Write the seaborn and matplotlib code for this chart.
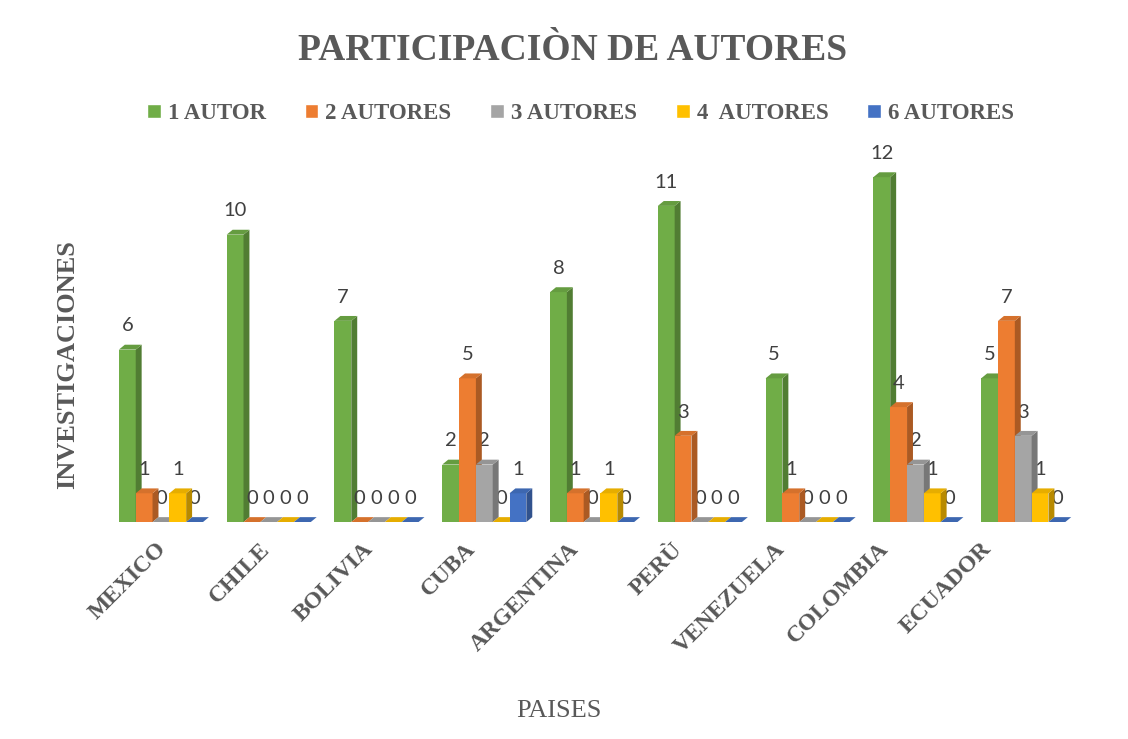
import numpy as np
import pandas as pd
import matplotlib
matplotlib.use("Agg")
import matplotlib.pyplot as plt
from matplotlib.patches import Polygon
from matplotlib.transforms import ScaledTranslation
import matplotlib.colors as mcolors
import seaborn as sns

countries = ["MEXICO", "CHILE", "BOLIVIA", "CUBA", "ARGENTINA", "PERÙ", "VENEZUELA", "COLOMBIA", "ECUADOR"]
series = ["1 AUTOR", "2 AUTORES", "3 AUTORES", "4  AUTORES", "6 AUTORES"]
autor1 = [6, 10, 7, 2, 8, 11, 5, 12, 5]
autores2 = [1, 0, 0, 5, 1, 3, 1, 4, 7]
autores3 = [0, 0, 0, 2, 0, 0, 0, 2, 3]
autores4 = [1, 0, 0, 0, 1, 0, 0, 1, 1]
autores6 = [0, 0, 0, 1, 0, 0, 0, 0, 0]
colors = ["#70AD47", "#ED7D31", "#A5A5A5", "#FFC000", "#4472C4"]

values = [autor1, autores2, autores3, autores4, autores6]
rows = []
for s, vals in zip(series, values):
    for c, v in zip(countries, vals):
        rows.append({"PAIS": c, "SERIE": s, "N": v})
df = pd.DataFrame(rows)

sns.set_theme(style="white")
plt.rcParams["font.family"] = ["Liberation Serif", "DejaVu Serif"]

fig = plt.figure(figsize=(11.28, 7.39), dpi=100)
ax = fig.add_axes([0.0949, 0.2936, 0.86, 0.525])

sns.barplot(data=df, x="PAIS", y="N", hue="SERIE", order=countries, hue_order=series,
            palette=colors, width=0.78, saturation=1, ax=ax, legend=True)

ax.set_xlim(-0.5, 8.5)
ax.set_ylim(0, 13.5)

# pseudo-3D faces
dx, dy = 0.055, 0.17
for j, cont in enumerate(ax.containers):
    base = colors[j]
    side = tuple(np.array(mcolors.to_rgb(base)) * 0.72)
    top = tuple(np.array(mcolors.to_rgb(base)) * 0.9)
    for p in cont.patches:
        p.set_zorder(2 + j)
        p.set_edgecolor("none")
        x0 = p.get_x(); x1 = x0 + p.get_width(); h = p.get_height()
        ax.add_patch(Polygon([(x1, 0), (x1 + dx, dy), (x1 + dx, h + dy), (x1, h)],
                             closed=True, facecolor=side, edgecolor="none", zorder=2 + j + 0.5))
        ax.add_patch(Polygon([(x0, h), (x0 + dx, h + dy), (x1 + dx, h + dy), (x1, h)],
                             closed=True, facecolor=top, edgecolor="none", zorder=2 + j + 0.5))
    ax.bar_label(cont, padding=11, fontsize=14.5, color="#404040", family="Lato")

for sp in ax.spines.values():
    sp.set_visible(False)
ax.set_yticks([])
ax.tick_params(axis="x", length=0, pad=12)
ax.set_xticks(range(len(countries)))
ax.set_xticklabels(countries, rotation=45, ha="right", rotation_mode="anchor",
                   fontsize=17, fontweight="bold", color="#595959")
for i, lab in enumerate(ax.get_xticklabels()):
    shift = (-5 - 4.7 * i) / 100.0
    lab.set_transform(lab.get_transform() + ScaledTranslation(shift, 0, fig.dpi_scale_trans))

ax.set_xlabel("PAISES", fontsize=19, color="#595959")
ax.xaxis.set_label_coords(0.466, -0.459)
ax.set_ylabel("INVESTIGACIONES", fontsize=19, fontweight="bold", color="#595959")
ax.yaxis.set_label_coords(-0.029, 0.405)

leg = ax.legend(loc="center", bbox_to_anchor=(0.488, 1.053), ncol=5, frameon=False,
                prop={"family": "Liberation Serif", "weight": "bold", "size": 16.5},
                handlelength=0.6, handleheight=0.6, handletextpad=0.3, columnspacing=1.7,
                labelcolor="#595959")
for t in leg.get_texts():
    t.set_color("#595959")

fig.text(0.508, 0.932, "PARTICIPACIÒN DE AUTORES", ha="center", va="center",
         fontsize=27, fontweight="bold", color="#595959")

fig.savefig("out.png", dpi=100)
